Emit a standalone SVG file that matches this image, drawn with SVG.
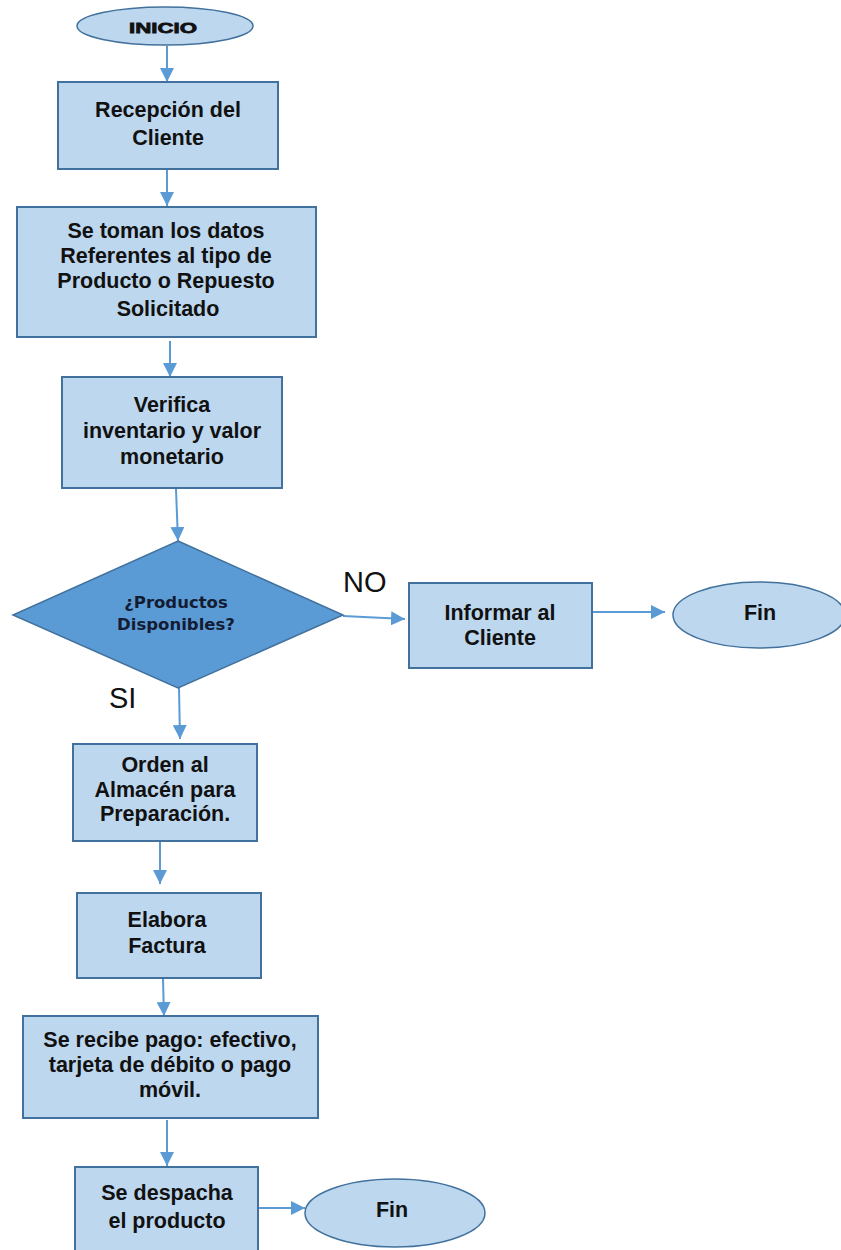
<svg xmlns="http://www.w3.org/2000/svg" width="841" height="1250" viewBox="0 0 841 1250">
<defs>
<style>
.box{fill:#BDD7EE;stroke:#41719C;stroke-width:2}
.term{fill:#BDD7EE;stroke:#41719C;stroke-width:1.5}
.dia{fill:#5B9BD5;stroke:#41719C;stroke-width:1.5}
.t{font-family:"Liberation Sans",Arial,sans-serif;font-weight:bold;font-size:21.5px;fill:#111;text-anchor:middle}
.dt{font-family:"DejaVu Sans",sans-serif;font-weight:bold;font-size:16.5px;fill:#141c33;text-anchor:middle}
.lbl{font-family:"Liberation Sans",Arial,sans-serif;font-size:29px;fill:#111}
.c{fill:none;stroke:#5B9BD5;stroke-width:2}
</style>
<marker id="ah" markerUnits="userSpaceOnUse" markerWidth="14" markerHeight="14" refX="14" refY="7" orient="auto">
<path d="M0,0 L14,7 L0,14 z" fill="#5B9BD5"/>
</marker>
</defs>
<rect width="841" height="1250" fill="#fff"/>
<g id="connectors">
<line class="c" x1="167" y1="46" x2="167" y2="82" marker-end="url(#ah)"/>
<line class="c" x1="167" y1="169" x2="167" y2="206" marker-end="url(#ah)"/>
<line class="c" x1="170" y1="341" x2="170" y2="377" marker-end="url(#ah)"/>
<line class="c" x1="176" y1="489" x2="178" y2="541" marker-end="url(#ah)"/>
<line class="c" x1="179" y1="688" x2="180" y2="739" marker-end="url(#ah)"/>
<line class="c" x1="160" y1="842" x2="160" y2="884" marker-end="url(#ah)"/>
<line class="c" x1="163" y1="979" x2="164" y2="1016" marker-end="url(#ah)"/>
<line class="c" x1="167" y1="1120" x2="167" y2="1166" marker-end="url(#ah)"/>
<line class="c" x1="259" y1="1208" x2="305" y2="1208" marker-end="url(#ah)"/>
<line class="c" x1="343" y1="616" x2="405" y2="619" marker-end="url(#ah)"/>
<line class="c" x1="593" y1="612" x2="665" y2="612" marker-end="url(#ah)"/>
<text class="lbl" x="343" y="592">NO</text>
<text class="lbl" x="109" y="708">SI</text>
</g>
<g id="inicio">
<ellipse class="term" cx="165" cy="26" rx="88" ry="19"/>
<text x="163" y="33" font-family="Liberation Sans,Arial,sans-serif" font-weight="bold" font-size="15.5" fill="#111" stroke="#111" stroke-width="0.8" text-anchor="middle" textLength="68" lengthAdjust="spacingAndGlyphs">INICIO</text>
</g>
<g id="recepcion">
<rect class="box" x="58" y="82" width="220" height="87"/>
<text class="t" x="168" y="117">Recepción del</text>
<text class="t" x="168" y="145">Cliente</text>
</g>
<g id="datos">
<rect class="box" x="17" y="207" width="299" height="130"/>
<text class="t" x="166" y="238">Se toman los datos</text>
<text class="t" x="166" y="263">Referentes al tipo de</text>
<text class="t" x="166" y="288">Producto o Repuesto</text>
<text class="t" x="168" y="316">Solicitado</text>
</g>
<g id="verifica">
<rect class="box" x="62" y="377" width="220" height="111"/>
<text class="t" x="172" y="412">Verifica</text>
<text class="t" x="172" y="438">inventario y valor</text>
<text class="t" x="172" y="464">monetario</text>
</g>
<g id="decision">
<polygon class="dia" points="178,541 343,615 178,688 13,615"/>
<text class="dt" x="176" y="608">¿Productos</text>
<text class="dt" x="176" y="630">Disponibles?</text>
</g>
<g id="informar">
<rect class="box" x="409" y="583" width="183" height="85"/>
<text class="t" x="500" y="620">Informar al</text>
<text class="t" x="500" y="645">Cliente</text>
</g>
<g id="fin1">
<ellipse class="term" cx="759" cy="615" rx="86" ry="33"/>
<text class="t" x="760" y="620">Fin</text>
</g>
<g id="orden">
<rect class="box" x="73" y="744" width="184" height="97"/>
<text class="t" x="165" y="772">Orden al</text>
<text class="t" x="165" y="797">Almacén para</text>
<text class="t" x="165" y="821">Preparación.</text>
</g>
<g id="factura">
<rect class="box" x="77" y="893" width="184" height="85"/>
<text class="t" x="167" y="927">Elabora</text>
<text class="t" x="167" y="953">Factura</text>
</g>
<g id="pago">
<rect class="box" x="23" y="1016" width="295" height="102"/>
<text class="t" x="170" y="1047">Se recibe pago: efectivo,</text>
<text class="t" x="170" y="1072">tarjeta de débito o pago</text>
<text class="t" x="170" y="1097">móvil.</text>
</g>
<g id="despacha">
<rect class="box" x="75" y="1167" width="183" height="90"/>
<text class="t" x="167" y="1200">Se despacha</text>
<text class="t" x="167" y="1228">el producto</text>
</g>
<g id="fin2">
<ellipse class="term" cx="395" cy="1213" rx="90" ry="34"/>
<text class="t" x="392" y="1217">Fin</text>
</g>
</svg>
